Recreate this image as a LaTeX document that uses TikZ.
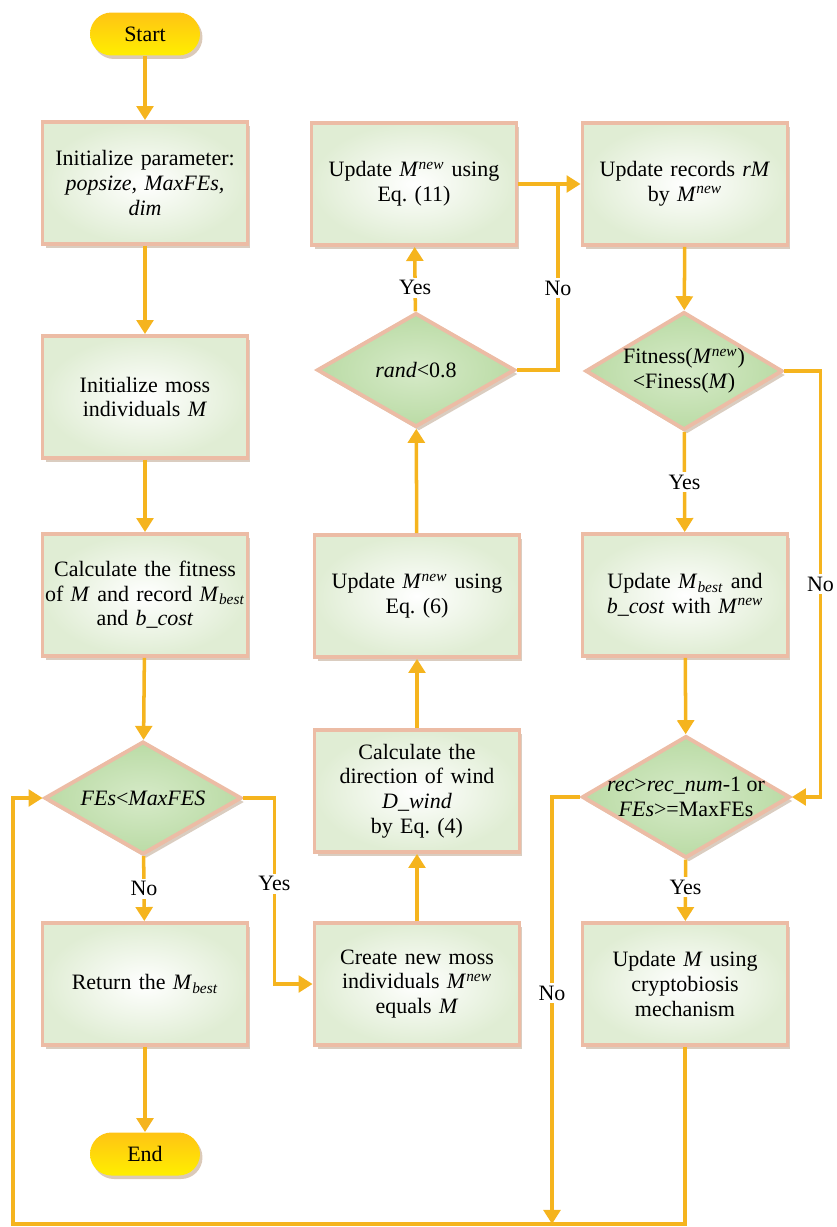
\documentclass[tikz,border=0pt]{standalone}
\usepackage{fontspec}
\setmainfont{Liberation Serif}
\usetikzlibrary{shapes.geometric,shadows,arrows.meta}

\definecolor{flowline}{RGB}{245,180,30}
\definecolor{boxedge}{RGB}{236,188,165}
\definecolor{boxgreen}{RGB}{224,237,212}
\definecolor{diagreen}{RGB}{186,219,165}
\definecolor{diainner}{RGB}{214,234,200}
\definecolor{pilltop}{RGB}{255,196,20}
\definecolor{pillbot}{RGB}{255,238,0}
\frenchspacing

\begin{document}
\begin{tikzpicture}[x=0.02cm,y=-0.02cm,>={Triangle[length=8pt,width=9.5pt]},
  font=\fontsize{12.5}{14}\selectfont,
  process/.style={rectangle,draw=boxedge,line width=2.2pt,inner color=white,outer color=boxgreen,
    minimum width=4.1cm,minimum height=2.44cm,text width=4.05cm,inner xsep=0pt,align=center,
    drop shadow={fill=brown!70!black,opacity=.3,shadow xshift=.6mm,shadow yshift=-.8mm}},
  decision/.style={diamond,draw=boxedge,line width=2.2pt,inner color=diainner,outer color=diagreen,
    inner sep=0pt,minimum width=3.95cm,minimum height=2.28cm,
    drop shadow={fill=brown!70!black,opacity=.3,shadow xshift=.6mm,shadow yshift=-.8mm}},
  terminal/.style={rectangle,rounded corners=.43cm,top color=pilltop,bottom color=pillbot,
    minimum width=2.2cm,minimum height=.86cm,
    drop shadow={fill=brown!80!black,opacity=.35,shadow xshift=.5mm,shadow yshift=-.7mm}},
  flow/.style={draw=flowline,line width=2pt,->},
  link/.style={draw=flowline,line width=2pt},
  lbl/.style={fill=white,inner sep=1.5pt}]

  % columns
  \def\xa{145}
  \def\xb{417}
  \def\xc{685}
  \useasboundingbox (0,0) rectangle (836,1227);

  % left column
  \node[terminal] (start) at (\xa,34) {Start};
  \node[process] (init) at (\xa,183) {Initialize parameter:\\ \textit{popsize, MaxFEs,}\\ \textit{dim}};
  \node[process] (moss) at (\xa,397) {Initialize moss\\ individuals \textit{M}};
  \node[process] (fit) at (\xa,595) {Calculate the fitness\\ of \textit{M} and record \textit{M}\textsubscript{\textit{best}}\\ and \textit{b\_cost}};
  \node[decision,minimum width=3.94cm,minimum height=2.26cm,
    label={[align=center]center:\textit{FEs}<\textit{MaxFES}}] (loop) at (143,798) {};
  \node[process] (ret) at (\xa,984) {Return the \textit{M}\textsubscript{\textit{best}}};
  \node[terminal] (end) at (\xa,1154) {End};

  % middle column
  \node[process] (create) at (\xb,984) {Create new moss\\ individuals \textit{M}\textsuperscript{\textit{new}}\\ equals \textit{M}};
  \node[process] (wind) at (\xb,791) {Calculate the\\ direction of wind\\ \textit{D\_wind}\\ by Eq. (4)};
  \node[process] (eqsix) at (\xb,596) {Update \textit{M}\textsuperscript{\textit{new}} using\\ Eq. (6)};
  \node[decision,minimum width=3.96cm,minimum height=2.28cm,
    label={[align=center]center:\textit{rand}<0.8}] (rand) at (416,370) {};
  \node[process] (eqeleven) at (414,184) {Update \textit{M}\textsuperscript{\textit{new}} using\\ Eq. (11)};

  % right column
  \node[process] (records) at (\xc,184) {Update records \textit{rM}\\ by \textit{M}\textsuperscript{\textit{new}}};
  \node[decision,minimum width=3.94cm,minimum height=2.36cm,
    label={[align=center]center:Fitness(\textit{M}\textsuperscript{\textit{new}})\\ <Finess(\textit{M})}] (better) at (684,371) {};
  \node[process] (upbest) at (\xc,595) {Update \textit{M}\textsubscript{\textit{best}} and\\ \textit{b\_cost} with \textit{M}\textsuperscript{\textit{new}}};
  \node[decision,minimum width=4.16cm,minimum height=2.44cm,
    label={[align=center]center:\textit{rec}>\textit{rec\_num}-1 or\\ \textit{FEs}>=MaxFEs}] (stop) at (686,797) {};
  \node[process] (crypto) at (\xc,984) {Update \textit{M} using\\ cryptobiosis\\ mechanism};

  % turning points
  \coordinate (nojoin) at (558,184);
  \coordinate (botR) at (\xc,1224);
  \coordinate (botL) at (13,1224);
  \coordinate (botM) at (552,1224);

  % connectors, left column
  \draw[flow] (start) -- (init);
  \draw[flow] (init) -- (moss);
  \draw[flow] (moss) -- (fit);
  \draw[flow] (fit) -- (loop);
  \draw[flow] (loop) -- node[lbl]{No} (ret);
  \draw[flow] (ret) -- (end);
  \draw[flow] (loop.east) -- ++(31,0) |- node[lbl,pos=.23]{Yes} (create.west);

  % connectors, middle column
  \draw[flow] (create) -- (wind);
  \draw[flow] (wind) -- (eqsix);
  \draw[flow] (eqsix) -- (rand);
  \draw[flow] (rand) -- node[lbl,pos=.37]{Yes} (eqeleven);
  \draw[flow] (eqeleven) -- (records);
  \draw[link] (rand.east) -| node[lbl,pos=.72]{No} (nojoin);

  % connectors, right column
  \draw[flow] (records) -- (better);
  \draw[flow] (better) -- node[lbl]{Yes} (upbest);
  \draw[flow] (better.east) -- ++(36,0) |- node[lbl,pos=.25]{No} (stop.east);
  \draw[flow] (upbest) -- (stop);
  \draw[flow] (stop) -- node[lbl,pos=.45]{Yes} (crypto);
  \draw[flow] (stop.west) -| node[lbl,pos=.73]{No} (botM);

  % back to the loop test
  \draw[flow] (crypto) -- (botR) -- (botL) |- (loop.west);
\end{tikzpicture}
\end{document}
